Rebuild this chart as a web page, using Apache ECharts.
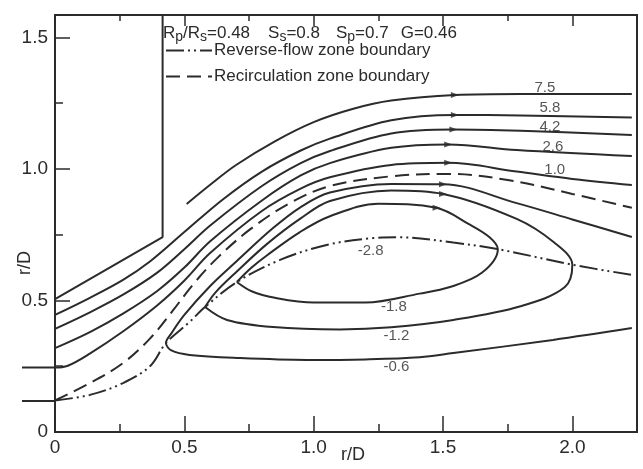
<!DOCTYPE html>
<html>
<head>
<meta charset="utf-8">
<script src="https://cdn.jsdelivr.net/npm/echarts@6/dist/echarts.min.js"></script>
<style>
  html, body { margin: 0; padding: 0; background: #fff; }
  #chart { width: 643px; height: 469px; }
</style>
</head>
<body>
<div id="chart"></div>
<script>
// streamlines as [r/D (x), r/D (y)]
const wall = [[0, 0.505], [0.416, 0.741], [0.416, 1.585]];
const stubLow = [[-0.127, 0.118], [0, 0.118]];

const s75 = [[0.509, 0.867], [0.6, 0.94], [0.7, 1.015], [0.85, 1.105], [1.0, 1.178], [1.15, 1.228], [1.3, 1.26], [1.546, 1.281], [1.8, 1.285], [2.23, 1.285]];
const s58 = [[0, 0.445], [0.135, 0.51], [0.263, 0.578], [0.367, 0.648], [0.5, 0.76], [0.65, 0.885], [0.8, 0.99], [0.95, 1.07], [1.063, 1.115], [1.3, 1.185], [1.546, 1.205], [1.8, 1.203], [2.23, 1.195]];
const s42 = [[0, 0.392], [0.135, 0.455], [0.263, 0.522], [0.394, 0.605], [0.5, 0.695], [0.6, 0.785], [0.8, 0.935], [0.95, 1.022], [1.063, 1.068], [1.3, 1.135], [1.54, 1.15], [1.8, 1.145], [2.23, 1.129]];
const s26 = [[0, 0.319], [0.135, 0.38], [0.263, 0.45], [0.394, 0.535], [0.5, 0.625], [0.6, 0.725], [0.8, 0.88], [0.95, 0.975], [1.063, 1.022], [1.3, 1.08], [1.52, 1.093], [1.785, 1.072], [2.23, 1.049]];
const s10 = [[-0.127, 0.245], [0, 0.245], [0.05, 0.252], [0.135, 0.298], [0.263, 0.382], [0.394, 0.48], [0.5, 0.575], [0.6, 0.68], [0.8, 0.84], [0.95, 0.925], [1.063, 0.968], [1.3, 1.015], [1.52, 1.023], [1.785, 0.99], [2.0, 0.962], [2.23, 0.939]];

const sm06 = [[2.23, 0.741], [2.0, 0.808], [1.785, 0.87], [1.5, 0.942], [1.3, 0.943], [1.063, 0.91], [0.95, 0.855], [0.843, 0.775], [0.703, 0.65], [0.6, 0.555], [0.5, 0.445], [0.45, 0.375], [0.429, 0.338], [0.45, 0.31], [0.52, 0.293], [0.715, 0.281], [0.974, 0.274], [1.2, 0.276], [1.41, 0.284], [1.54, 0.3], [1.925, 0.35], [2.23, 0.395]];
const sm12 = [[0.58, 0.475], [0.62, 0.53], [0.703, 0.61], [0.82, 0.715], [0.947, 0.81], [1.063, 0.878], [1.3, 0.918], [1.5, 0.905], [1.785, 0.81], [1.93, 0.72], [2.0, 0.636], [1.97, 0.55], [1.8, 0.478], [1.54, 0.426], [1.3, 0.398], [1.1, 0.39], [0.843, 0.399], [0.665, 0.426], [0.58, 0.475]];
const sm18 = [[0.703, 0.57], [0.76, 0.625], [0.82, 0.672], [0.947, 0.76], [1.063, 0.82], [1.25, 0.868], [1.475, 0.852], [1.6, 0.79], [1.68, 0.74], [1.712, 0.695], [1.65, 0.605], [1.527, 0.551], [1.41, 0.526], [1.2, 0.492], [1.0, 0.492], [0.85, 0.51], [0.76, 0.535], [0.703, 0.57]];

const recirc = [[0, 0.12], [0.135, 0.186], [0.263, 0.262], [0.367, 0.355], [0.456, 0.462], [0.533, 0.56], [0.626, 0.66], [0.754, 0.77], [0.908, 0.87], [1.063, 0.935], [1.3, 0.972], [1.52, 0.981], [1.75, 0.958], [2.0, 0.905], [2.23, 0.852]];
const reverse = [[0, 0.12], [0.135, 0.141], [0.263, 0.186], [0.367, 0.25], [0.429, 0.338], [0.52, 0.418], [0.58, 0.475], [0.703, 0.57], [0.87, 0.654], [1.05, 0.711], [1.23, 0.737], [1.333, 0.74], [1.54, 0.72], [1.712, 0.695], [2.0, 0.636], [2.23, 0.597]];

const arrows = [[1.546, 1.281], [1.546, 1.205], [1.54, 1.15], [1.52, 1.093], [1.52, 1.023], [1.5, 0.942], [1.5, 0.905], [1.475, 0.852]];

const psiNames = ['7.5', '5.8', '4.2', '2.6', '1.0', '-2.8', '-1.8', '-1.2', '-0.6'];
const psiX = [1.894, 1.913, 1.913, 1.925, 1.932, 1.22, 1.31, 1.32, 1.32];
const psiY = [1.308, 1.232, 1.16, 1.084, 0.996, 0.69, 0.475, 0.365, 0.247];

const INK = "#2b2b2b";
const FONT = "Liberation Sans, Arial, sans-serif";
const DASH = [14, 7];
const DASH_DOT = [18, 4, 2, 4, 2, 4];

function tickLabel(v) {
  if (Math.abs(v * 2 - Math.round(v * 2)) > 1e-6) return "";
  return v === 0 ? "0" : v.toFixed(1);
}

function axisX(pos, interval, len, labels) {
  return {
    type: "value", gridIndex: 0, min: 0, max: 2.25, interval: interval, position: pos,
    axisLine: { show: true, lineStyle: { color: INK, width: 2 } },
    axisTick: { show: true, inside: true, length: len, lineStyle: { color: INK, width: 1.5 } },
    axisLabel: { show: labels, formatter: tickLabel, fontSize: 19, color: INK, fontFamily: FONT, margin: 6 },
    splitLine: { show: false },
  };
}
function axisY(interval, len, labels) {
  return {
    type: "value", gridIndex: 0, min: 0, max: 1.585, interval: interval, position: "left",
    axisLine: { show: true, lineStyle: { color: INK, width: 2 } },
    axisTick: { show: true, inside: true, length: len, lineStyle: { color: INK, width: 1.5 } },
    axisLabel: { show: labels, formatter: tickLabel, fontSize: 19, color: INK, fontFamily: FONT, margin: 7 },
    splitLine: { show: false },
  };
}

function stream(data, extra) {
  return Object.assign({
    type: "line", data: data, symbol: "none", smooth: 0.35,
    lineStyle: { color: INK, width: 2 }, itemStyle: { color: INK }, silent: true, z: 3,
  }, extra || {});
}

let chart = echarts.init(document.getElementById("chart"));

let xBottom = axisX("bottom", 0.5, 16, true);
xBottom.name = "r/D";
xBottom.nameLocation = "middle";
xBottom.nameGap = 14;
xBottom.nameMoveOverlap = false;
xBottom.nameTextStyle = { fontSize: 18, color: INK, fontFamily: FONT, padding: [0, 0, 0, 14] };

// second grid, same scale, reaching left of the axis for the inlet stubs
let hidden = { show: false };

let option = {
  animation: false,
  backgroundColor: "#fff",
  color: [INK],
  grid: [
    { left: 55, right: 6, top: 15, bottom: 37, show: true, borderColor: INK, borderWidth: 2, containLabel: false, outerBoundsMode: "none" },
    { left: 22, right: 6, top: 15, bottom: 37, show: false, containLabel: false, outerBoundsMode: "none" },
  ],
  xAxis: [
    xBottom, axisX("bottom", 0.25, 8, false), axisX("top", 0.25, 6, false), axisX("top", 0.5, 11, false),
    { type: "value", gridIndex: 1, min: -0.127, max: 2.25, axisLine: hidden, axisTick: hidden, axisLabel: hidden, splitLine: hidden },
  ],
  yAxis: [
    axisY(0.5, 15, true), axisY(0.25, 8, false),
    { type: "value", gridIndex: 1, min: 0, max: 1.585, axisLine: hidden, axisTick: hidden, axisLabel: hidden, splitLine: hidden },
  ],
  legend: {
    left: 160, top: 37, orient: "vertical", itemWidth: 46, itemHeight: 14, itemGap: 9,
    itemStyle: { opacity: 0 },
    data: [
      { name: "Reverse-flow zone boundary", lineStyle: { type: DASH_DOT, color: INK, width: 2 } },
      { name: "Recirculation zone boundary", lineStyle: { type: DASH, color: INK, width: 2 } },
    ],
    textStyle: { fontSize: 17, color: INK, fontFamily: FONT, padding: [0, 0, 0, -3] },
  },
  graphic: [
    {
      type: "text", x: 163, y: 22,
      style: {
        text: "{n|R}{s|p}{n|/R}{s|s}{n|=0.48}{g|}{n|S}{s|s}{n|=0.8}{h|}{n|S}{s|p}{n|=0.7}{k|}{n|G=0.46}",
        rich: {
          n: { fontSize: 17, lineHeight: 22, verticalAlign: "middle", fill: INK, fontFamily: FONT },
          s: { fontSize: 14, lineHeight: 12, verticalAlign: "bottom", fill: INK, fontFamily: FONT },
          g: { width: 18 },
          h: { width: 16 },
          k: { width: 12 },
        },
      },
    },
    {
      type: "text", x: 25, y: 263, rotation: Math.PI / 2,
      style: { text: "r/D", fontSize: 18, fill: INK, fontFamily: FONT, align: "center", verticalAlign: "middle" },
    },
  ],
  series: [
    stream(wall, { smooth: false }),
    stream(stubLow, { smooth: false, xAxisIndex: 4, yAxisIndex: 2 }),
    stream(s75), stream(s58), stream(s42), stream(s26),
    stream(s10, { xAxisIndex: 4, yAxisIndex: 2 }),
    stream(sm06), stream(sm12), stream(sm18),
    stream(recirc, { name: "Recirculation zone boundary", lineStyle: { color: INK, width: 2, type: DASH } }),
    stream(reverse, { name: "Reverse-flow zone boundary", lineStyle: { color: INK, width: 2, type: DASH_DOT } }),
    {
      type: "scatter", data: arrows, symbol: "triangle", symbolSize: [6, 8], symbolRotate: -90,
      itemStyle: { color: INK }, silent: true, z: 4,
    },
    {
      type: "scatter", silent: true, symbolSize: 0, z: 5,
      data: psiNames.map((n, i) => ({ name: n, value: [psiX[i], psiY[i]] })),
      label: { show: true, position: "inside", formatter: (p) => p.name, fontSize: 15, color: INK, fontFamily: FONT },
    },
  ],
};

option && chart.setOption(option);
</script>
</body>
</html>
